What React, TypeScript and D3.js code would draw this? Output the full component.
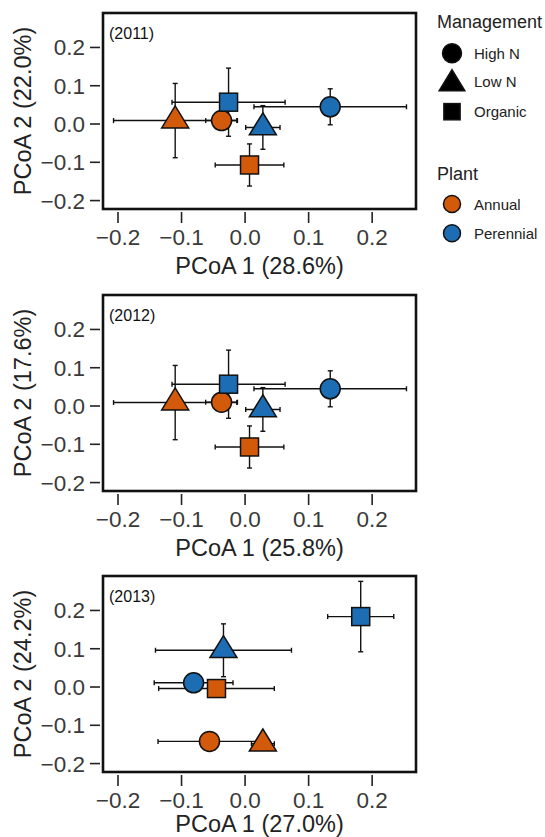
import React from 'react';
import * as d3 from 'd3';

// panels
const years = ['2011', '2012', '2013'];
const pc1Var = ['28.6', '25.8', '27.0'];
const pc2Var = ['22.0', '17.6', '24.2'];

// group order used by every value array below
const groupPlant = ['Annual', 'Annual', 'Annual', 'Perennial', 'Perennial', 'Perennial'];
const groupMgmt = ['High N', 'Low N', 'Organic', 'High N', 'Low N', 'Organic'];

// 2011
const pc1_2011 = [-0.037, -0.110, 0.007, 0.134, 0.028, -0.026];
const pc1Err_2011 = [0.025, 0.097, 0.054, 0.120, 0.027, 0.089];
const pc2_2011 = [0.009, 0.009, -0.107, 0.045, -0.009, 0.057];
const pc2Err_2011 = [0.02, 0.097, 0.055, 0.047, 0.057, 0.089];

// 2012
const pc1_2012 = [-0.037, -0.110, 0.007, 0.134, 0.028, -0.026];
const pc1Err_2012 = [0.025, 0.097, 0.054, 0.120, 0.027, 0.089];
const pc2_2012 = [0.010, 0.009, -0.107, 0.045, -0.009, 0.057];
const pc2Err_2012 = [0.02, 0.097, 0.055, 0.047, 0.057, 0.089];

// 2013
const pc1_2013 = [-0.056, 0.028, -0.045, -0.081, -0.034, 0.182];
const pc1Err_2013 = [0.081, 0.018, 0.091, 0.062, 0.107, 0.052];
const pc2_2013 = [-0.142, -0.148, -0.004, 0.011, 0.096, 0.184];
const pc2Err_2013 = [0.015, 0.012, 0.012, 0.015, 0.069, 0.092];

const pc1 = [pc1_2011, pc1_2012, pc1_2013];
const pc1Err = [pc1Err_2011, pc1Err_2012, pc1Err_2013];
const pc2 = [pc2_2011, pc2_2012, pc2_2013];
const pc2Err = [pc2Err_2011, pc2Err_2012, pc2Err_2013];

const ticks = [-0.2, -0.1, 0.0, 0.1, 0.2];

const plantColor: Record<string, string> = { Annual: '#D35A0A', Perennial: '#1C6DB3' };
const managements = ['High N', 'Low N', 'Organic'];
const plants = ['Annual', 'Perennial'];

const FONT = '"Liberation Sans", Arial, Helvetica, sans-serif';
const W = 545, H = 837;
const boxLeft = 103, boxRight = 416, boxH = 196;
const panelTops = [13, 295, 576];

const fmt = d3.format('.1f');

function Marker({ shape, cx, cy, fill, s = 1 }: any) {
  const stroke = '#111';
  if (shape === 'High N') {
    return <circle cx={cx} cy={cy} r={10 * s} fill={fill} stroke={stroke} strokeWidth={1.5} />;
  }
  if (shape === 'Organic') {
    const h = 9 * s;
    return <rect x={cx - h} y={cy - h} width={2 * h} height={2 * h} fill={fill} stroke={stroke} strokeWidth={1.5} />;
  }
  const w = 13.5 * s, th = 22 * s;
  const pts = `${cx},${cy - (2 / 3) * th} ${cx - w},${cy + th / 3} ${cx + w},${cy + th / 3}`;
  return <polygon points={pts} fill={fill} stroke={stroke} strokeWidth={1.5} strokeLinejoin="miter" />;
}

function Panel({ idx }: { idx: number }) {
  const top = panelTops[idx];
  const x = d3.scaleLinear().domain([-0.2236, 0.269]).range([boxLeft, boxRight]);
  const y = d3.scaleLinear().domain([-0.222, 0.29]).range([top + boxH, top]);
  const bottom = top + boxH;
  const cap = 2.5;
  const ids = d3.range(groupPlant.length);
  const titleY = Math.min(bottom + 65, H - 5);
  return (
    <g>
      {/* error bars */}
      {ids.map(i => {
        const cx = x(pc1[idx][i]), cy = y(pc2[idx][i]);
        const x0 = x(pc1[idx][i] - pc1Err[idx][i]), x1 = x(pc1[idx][i] + pc1Err[idx][i]);
        const y0 = y(pc2[idx][i] - pc2Err[idx][i]), y1 = y(pc2[idx][i] + pc2Err[idx][i]);
        return (
          <g key={'e' + i} stroke="#111" strokeWidth={1.4}>
            <line x1={x0} x2={x1} y1={cy} y2={cy} />
            <line x1={x0} x2={x0} y1={cy - cap} y2={cy + cap} />
            <line x1={x1} x2={x1} y1={cy - cap} y2={cy + cap} />
            <line x1={cx} x2={cx} y1={y0} y2={y1} />
            <line x1={cx - cap} x2={cx + cap} y1={y0} y2={y0} />
            <line x1={cx - cap} x2={cx + cap} y1={y1} y2={y1} />
          </g>
        );
      })}
      {ids.map(i => (
        <Marker key={'m' + i} shape={groupMgmt[i]} cx={x(pc1[idx][i])} cy={y(pc2[idx][i])}
          fill={plantColor[groupPlant[i]]} />
      ))}
      <rect x={boxLeft} y={top} width={boxRight - boxLeft} height={boxH} fill="none" stroke="#111" strokeWidth={2.6} />
      <text x={109} y={top + 26} fontSize={16} fill="#111" fontFamily={FONT}>({years[idx]})</text>
      {/* x axis */}
      {ticks.map(t => (
        <g key={'x' + t}>
          <line x1={x(t)} x2={x(t)} y1={bottom + 3} y2={bottom + 14} stroke="#222" strokeWidth={1.6} />
          <text x={x(t)} y={bottom + 36} textAnchor="middle" fontSize={22.5} fill="#3a3a3a" fontFamily={FONT}>{fmt(t)}</text>
        </g>
      ))}
      <text x={(boxLeft + boxRight) / 2} y={titleY} textAnchor="middle" fontSize={23.5} fill="#222" fontFamily={FONT}>
        PCoA 1 ({pc1Var[idx]}%)
      </text>
      {/* y axis */}
      {ticks.map(t => (
        <g key={'y' + t}>
          <line x1={boxLeft - 13} x2={boxLeft - 3} y1={y(t)} y2={y(t)} stroke="#222" strokeWidth={1.6} />
          <text x={boxLeft - 18} y={y(t) + 8} textAnchor="end" fontSize={22.5} fill="#3a3a3a" fontFamily={FONT}>{fmt(t)}</text>
        </g>
      ))}
      <text transform={`translate(31, ${top + boxH / 2}) rotate(-90)`} textAnchor="middle" fontSize={23.5} fill="#222" fontFamily={FONT}>
        PCoA 2 ({pc2Var[idx]}%)
      </text>
    </g>
  );
}

function Legend() {
  const mgmtY = [53.3, 81.7, 111.7];
  const plantY = [204, 233.3];
  return (
    <g fontFamily={FONT}>
      <text x={437} y={28} fontSize={18} fill="#222">Management</text>
      {managements.map((m, i) => (
        <g key={m}>
          <Marker shape={m} cx={452} cy={mgmtY[i] + (m === 'Low N' ? 2 : 0)} fill="#000" s={m === 'Organic' ? 0.9 : 0.95} />
          <text x={474} y={mgmtY[i] + 5.5} fontSize={15} fill="#222">{m}</text>
        </g>
      ))}
      <text x={437} y={180} fontSize={18} fill="#222">Plant</text>
      {plants.map((p, i) => (
        <g key={p}>
          <circle cx={452} cy={plantY[i]} r={8.5} fill={plantColor[p]} stroke="#111" strokeWidth={1.5} />
          <text x={474} y={plantY[i] + 5.5} fontSize={15} fill="#222">{p}</text>
        </g>
      ))}
    </g>
  );
}

export default function App() {
  return (
    <svg width={W} height={H} style={{ position: 'absolute', left: 0, top: 0, background: '#fff' }}>
      <rect width={W} height={H} fill="#fff" />
      {years.map((_, i) => <Panel key={i} idx={i} />)}
      <Legend />
    </svg>
  );
}
